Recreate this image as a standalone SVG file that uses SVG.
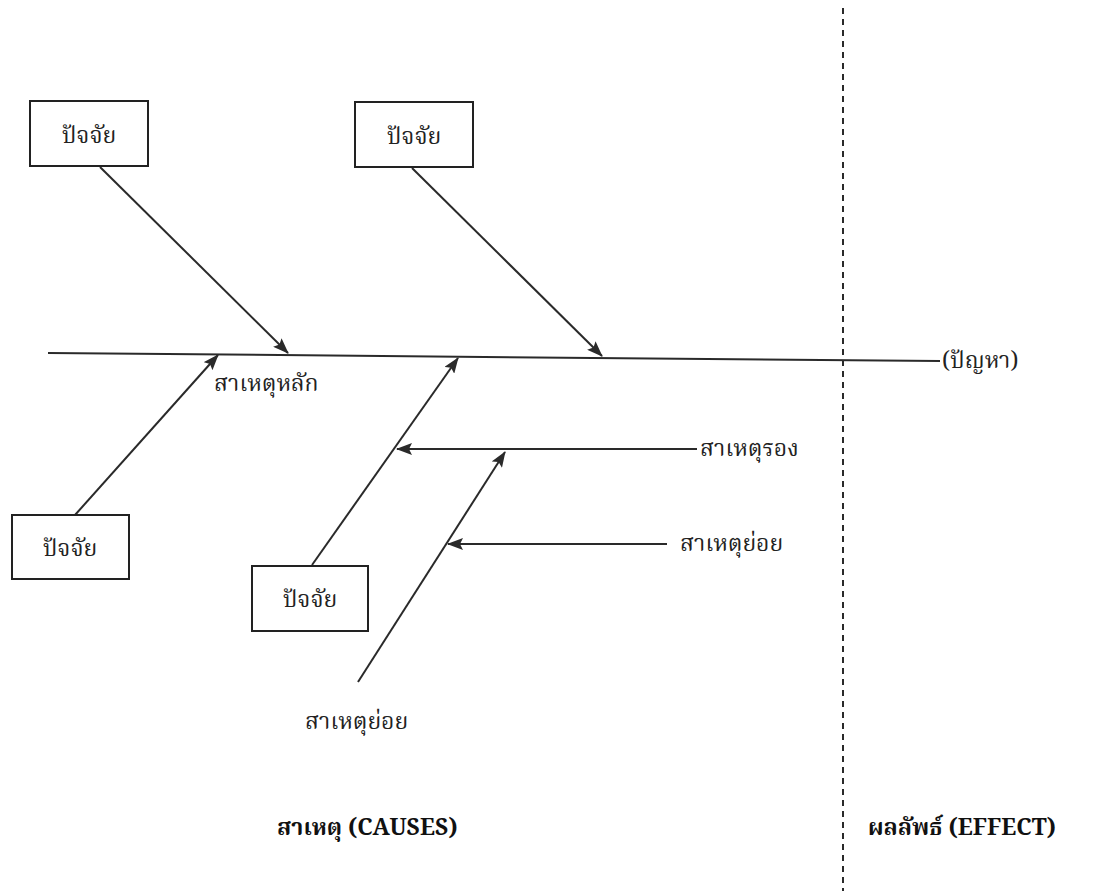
<svg xmlns="http://www.w3.org/2000/svg" width="1117" height="891" viewBox="0 0 1117 891">
<defs>
<marker id="ah" markerUnits="userSpaceOnUse" markerWidth="16" markerHeight="12" viewBox="0 0 16 12" refX="15" refY="6" orient="auto">
<path d="M0,0 L16,6 L0,12 L3,6 Z" fill="#2a2a2a"/>
</marker>
<style>
.box{fill:#fff;stroke:#222;stroke-width:2}
.ln{stroke:#2a2a2a;stroke-width:2;fill:none}
.t{font-family:"Noto Serif Thai","Noto Sans Thai","Liberation Serif",serif;font-size:23px;fill:#222}
.b{font-family:"Noto Serif Thai","Noto Sans Thai","Liberation Serif",serif;font-size:23px;font-weight:bold;fill:#111}
.c{text-anchor:middle}
</style>
</defs>
<rect width="1117" height="891" fill="#fff"/>
<g id="connectors">
<line class="ln" x1="48" y1="353" x2="940" y2="361"/>
<line class="ln" x1="843" y1="8" x2="843" y2="891" stroke-dasharray="6 5"/>
<line class="ln" x1="100" y1="167" x2="288" y2="353" marker-end="url(#ah)"/>
<line class="ln" x1="412" y1="168" x2="602" y2="356" marker-end="url(#ah)"/>
<line class="ln" x1="75" y1="515" x2="218" y2="355" marker-end="url(#ah)"/>
<line class="ln" x1="312" y1="565" x2="458" y2="358" marker-end="url(#ah)"/>
<line class="ln" x1="697" y1="449" x2="397" y2="449" marker-end="url(#ah)"/>
<line class="ln" x1="358" y1="682" x2="505" y2="452" marker-end="url(#ah)"/>
<line class="ln" x1="667" y1="544" x2="448" y2="544" marker-end="url(#ah)"/>
</g>
<g id="factor1"><rect class="box" x="30" y="101" width="118" height="65"/><text class="t c" x="89" y="143">ปัจจัย</text></g>
<g id="factor2"><rect class="box" x="355" y="102" width="118" height="65"/><text class="t c" x="414" y="144">ปัจจัย</text></g>
<g id="factor3"><rect class="box" x="12" y="515" width="117" height="64"/><text class="t c" x="70" y="556">ปัจจัย</text></g>
<g id="factor4"><rect class="box" x="252" y="566" width="116" height="65"/><text class="t c" x="310" y="607">ปัจจัย</text></g>
<g id="labels">
<text class="t" x="214" y="391">สาเหตุหลัก</text>
<text class="t" x="700" y="456">สาเหตุรอง</text>
<text class="t" x="680" y="551">สาเหตุย่อย</text>
<text class="t" x="305" y="729">สาเหตุย่อย</text>
<text class="t" x="942" y="368">(ปัญหา)</text>
<text class="b" x="277" y="835">สาเหตุ (CAUSES)</text>
<text class="b" x="868" y="835">ผลลัพธ์ (EFFECT)</text>
</g>
</svg>
